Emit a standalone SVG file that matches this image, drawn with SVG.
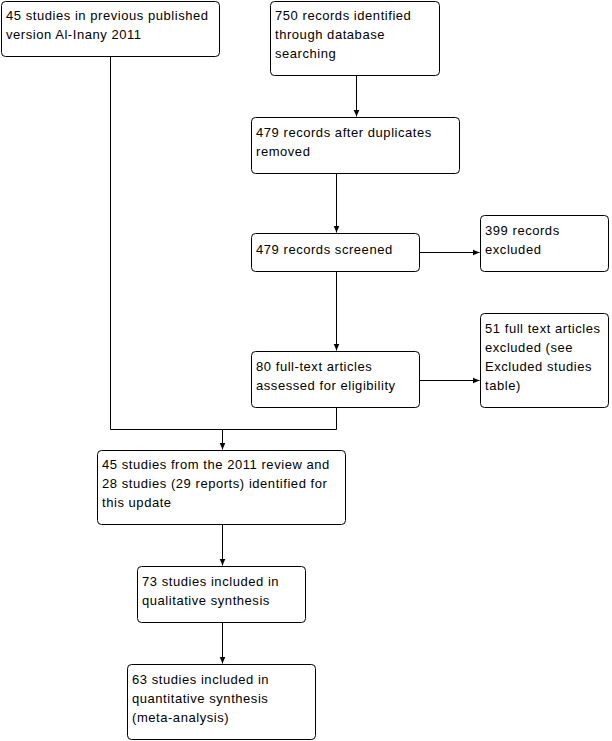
<svg xmlns="http://www.w3.org/2000/svg" width="612" height="741" viewBox="0 0 612 741">
<style>
.box{fill:#fff;stroke:#000;stroke-width:1}
.t{font-family:"Liberation Sans",Arial,sans-serif;font-size:13px;letter-spacing:0.55px;fill:#000}
.ln{fill:none;stroke:#000;stroke-width:1}
</style>
<defs>
<marker id="ah" markerWidth="7" markerHeight="7" refX="7" refY="3.5" orient="auto" markerUnits="userSpaceOnUse">
<path d="M0,0.5 L7,3.5 L0,6.5 Z" fill="#000"/>
</marker>
</defs>
<rect width="612" height="741" fill="#fff"/>
<g id="connectors">
<path class="ln" d="M110.5,57 V429.5 H336.5 V408"/>
<path class="ln" d="M222.5,429.5 V449.5" marker-end="url(#ah)"/>
<path class="ln" d="M356.5,76 V116.5" marker-end="url(#ah)"/>
<path class="ln" d="M336.5,174 V232.5" marker-end="url(#ah)"/>
<path class="ln" d="M420,252.5 H479.5" marker-end="url(#ah)"/>
<path class="ln" d="M336.5,272 V350.5" marker-end="url(#ah)"/>
<path class="ln" d="M420,380.5 H479.5" marker-end="url(#ah)"/>
<path class="ln" d="M222.5,525 V565.5" marker-end="url(#ah)"/>
<path class="ln" d="M222.5,623 V663.5" marker-end="url(#ah)"/>
</g>
<g id="n1"><rect class="box" x="1.5" y="1.5" width="218" height="55" rx="4"/>
<text class="t" x="6" y="20">45 studies in previous published</text>
<text class="t" x="6" y="39">version Al-Inany 2011</text></g>
<g id="n2"><rect class="box" x="270.5" y="1.5" width="169" height="74" rx="4"/>
<text class="t" x="275" y="20">750 records identified</text>
<text class="t" x="275" y="39">through database</text>
<text class="t" x="275" y="58">searching</text></g>
<g id="n3"><rect class="box" x="251.5" y="117.5" width="208" height="56" rx="4"/>
<text class="t" x="256" y="137">479 records after duplicates</text>
<text class="t" x="256" y="156">removed</text></g>
<g id="n4"><rect class="box" x="251.5" y="233.5" width="168" height="38" rx="4"/>
<text class="t" x="256" y="254">479 records screened</text></g>
<g id="n5"><rect class="box" x="480.5" y="215.5" width="128" height="56" rx="4"/>
<text class="t" x="485" y="235">399 records</text>
<text class="t" x="485" y="254">excluded</text></g>
<g id="n6"><rect class="box" x="251.5" y="351.5" width="168" height="56" rx="4"/>
<text class="t" x="256" y="371">80 full-text articles</text>
<text class="t" x="256" y="390">assessed for eligibility</text></g>
<g id="n7"><rect class="box" x="480.5" y="313.5" width="128" height="94" rx="4"/>
<text class="t" x="485" y="333">51 full text articles</text>
<text class="t" x="485" y="352">excluded (see</text>
<text class="t" x="485" y="371">Excluded studies</text>
<text class="t" x="485" y="390">table)</text></g>
<g id="n8"><rect class="box" x="97.5" y="450.5" width="248" height="74" rx="4"/>
<text class="t" x="102" y="469">45 studies from the 2011 review and</text>
<text class="t" x="102" y="488">28 studies (29 reports) identified for</text>
<text class="t" x="102" y="507">this update</text></g>
<g id="n9"><rect class="box" x="137.5" y="566.5" width="168" height="56" rx="4"/>
<text class="t" x="142" y="586">73 studies included in</text>
<text class="t" x="142" y="605">qualitative synthesis</text></g>
<g id="n10"><rect class="box" x="127.5" y="664.5" width="188" height="75" rx="4"/>
<text class="t" x="132" y="684">63 studies included in</text>
<text class="t" x="132" y="703">quantitative synthesis</text>
<text class="t" x="132" y="722">(meta-analysis)</text></g>
</svg>
